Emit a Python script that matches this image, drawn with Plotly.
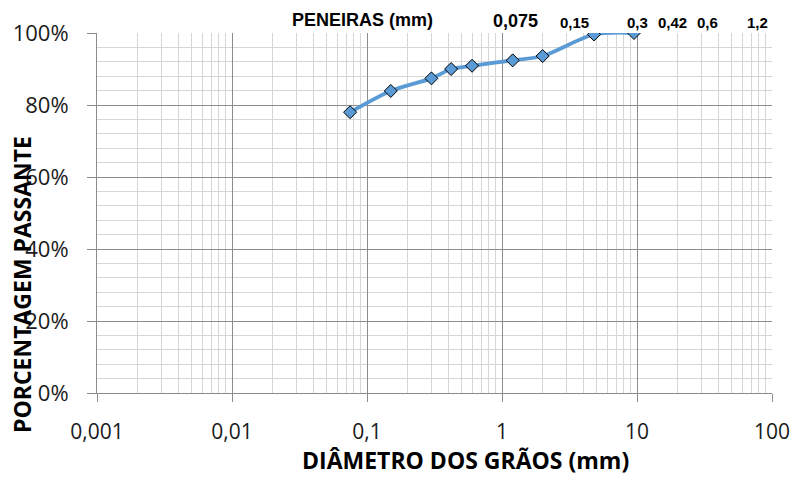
import plotly.graph_objects as go

# Data
diametro_mm = [0.075, 0.15, 0.3, 0.42, 0.6, 1.2, 2.0, 4.8, 9.5]
passante = [0.78, 0.839, 0.874, 0.90, 0.909, 0.924, 0.936, 0.996, 1.0]

x_tickvals = [0.001, 0.01, 0.1, 1, 10, 100]
x_ticktext = ["0,001", "0,01", "0,1", "1", "10", "100"]
y_tickvals = [0, 0.2, 0.4, 0.6, 0.8, 1.0]
y_ticktext = ["0%", "20%", "40%", "60%", "80%", "100%"]

peneiras_labels = ["PENEIRAS (mm)", "0,075", "0,15", "0,3", "0,42", "0,6", "1,2"]

W, H = 795, 497
L, R, T, B = 97, 23, 33, 104
PW, PH = W - L - R, H - T - B


def px(x):
    return (x - L) / PW


def py(y):
    return (H - B - y) / PH


fig = go.Figure()
fig.add_trace(go.Scatter(
    x=diametro_mm, y=passante,
    mode="lines+markers",
    line=dict(color="#5B9BD5", width=3.8, shape="spline", smoothing=0.8),
    marker=dict(symbol="diamond", size=10, color="#5B9BD5",
                line=dict(color="#000000", width=1)),
    showlegend=False,
    hoverinfo="x+y",
))

fig.update_layout(
    width=W, height=H,
    margin=dict(l=L, r=R, t=T, b=B, autoexpand=False),
    paper_bgcolor="white", plot_bgcolor="white",
    xaxis=dict(
        type="log", range=[-3, 2],
        tickvals=x_tickvals, ticktext=x_ticktext,
        tickfont=dict(family="Open Sans, sans-serif", size=21, color="#1a1a1a"),
        showgrid=True, gridcolor="#8c8c8c", gridwidth=1,
        ticks="outside", ticklen=8, tickcolor="#8c8c8c",
        showline=True, linecolor="#8c8c8c", linewidth=1,
        ticklabelstandoff=12, automargin=False,
        minor=dict(dtick="D1", showgrid=True, gridcolor="#d6d6d6", gridwidth=1, ticks=""),
        zeroline=False,
    ),
    yaxis=dict(
        range=[0, 1],
        tickvals=y_tickvals, ticktext=y_ticktext,
        tickfont=dict(family="Open Sans, sans-serif", size=22, color="#1a1a1a"),
        showgrid=True, gridcolor="#8c8c8c", gridwidth=1,
        ticks="outside", ticklen=9, tickcolor="#8c8c8c",
        showline=True, linecolor="#8c8c8c", linewidth=1,
        ticklabelstandoff=14, automargin=False,
        minor=dict(dtick=0.04, showgrid=True, gridcolor="#d6d6d6", gridwidth=1, ticks=""),
        zeroline=False,
    ),
)

title_font = dict(family="Open Sans, sans-serif", size=23, color="#000000")
fig.add_annotation(text="<b>PORCENTAGEM PASSANTE</b>", textangle=-90,
                   xref="paper", yref="paper", x=px(22), y=py(285),
                   showarrow=False, font=title_font, xanchor="center", yanchor="middle")
fig.add_annotation(text="<b>DIÂMETRO DOS GRÃOS (mm)</b>",
                   xref="paper", yref="paper", x=px(465), y=py(460),
                   showarrow=False, font=title_font, xanchor="center", yanchor="middle")

label_x = [362, 515, 574, 637, 672, 707, 757]
label_y = [20, 21, 22, 22, 22, 22, 22]
label_size = [18, 18, 15, 15, 15, 15, 15]
for txt, lx, ly, ls in zip(peneiras_labels, label_x, label_y, label_size):
    fig.add_annotation(text=f"<b>{txt}</b>", xref="paper", yref="paper",
                       x=px(lx), y=py(ly), showarrow=False,
                       font=dict(family="Liberation Sans, Arial, sans-serif", size=ls, color="#000000"),
                       xanchor="center", yanchor="middle")

fig.write_html(
    "out.html",
    config={"displayModeBar": False},
    post_script="document.body.style.margin='0';document.body.style.overflow='hidden';",
)
